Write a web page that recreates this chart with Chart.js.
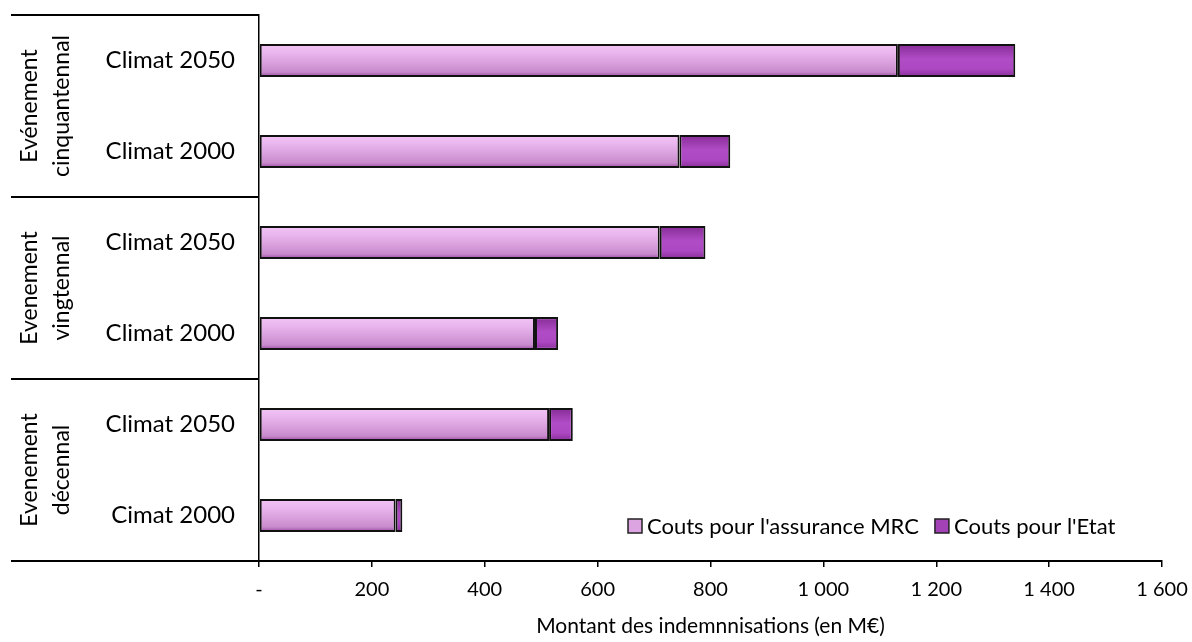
<!DOCTYPE html>
<html lang="fr">
<head>
<meta charset="UTF-8">
<title>Montant des indemnisations</title>
<script src="https://cdn.jsdelivr.net/npm/chart.js"></script>
<style>
  html, body { margin: 0; padding: 0; background: #fff; }
</style>
</head>
<body>
<canvas id="c" width="1192" height="642"></canvas>
<script>
  // valeurs (M€)
  const categories = ['Climat 2050', 'Climat 2000', 'Climat 2050', 'Climat 2000', 'Climat 2050', 'Cimat 2000'];
  const groups = [['Evénement', 'cinquantennal'], ['Evenement', 'vingtennal'], ['Evenement', 'décennal']];
  const assuranceMRC = [1132, 745, 710, 489, 514, 242];
  const coutsEtat = [208, 90, 81, 41, 42, 12];
  const seriesNames = ["Couts pour l'assurance MRC", "Couts pour l'Etat"];
  const xMin = 0, xMax = 1600, xStep = 200;

  const FONT = 'Lato, "Open Sans", sans-serif';
  const BAR_PCT = 0.36;

  function barGradient(stops, flat) {
    return (ctx) => {
      const chart = ctx.chart;
      const y = chart.scales.y;
      if (ctx.type !== 'data' || !y) return flat;
      const c = y.getPixelForValue(ctx.dataIndex);
      const h = (y.height / categories.length) * BAR_PCT;
      if (!isFinite(c) || !isFinite(h) || h <= 0) return flat;
      const g = chart.ctx.createLinearGradient(0, c - h / 2, 0, c + h / 2);
      stops.forEach(s => g.addColorStop(s[0], s[1]));
      return g;
    };
  }

  const mrcStops = [[0, '#f2c4f6'], [0.3, '#e8b4ec'], [0.65, '#d49ad8'], [0.85, '#c88acc'], [1, '#9a4aa2']];
  const etatStops = [[0, '#862c96'], [0.45, '#b04cc6'], [0.75, '#ac48c2'], [1, '#8a2e9a']];

  const decor = {
    id: 'decor',
    afterDraw(chart) {
      const ctx = chart.ctx;
      const a = chart.chartArea;
      const left = 11;
      const rowH = (a.bottom - a.top) / categories.length;
      ctx.save();
      ctx.strokeStyle = '#000';
      ctx.lineWidth = 2;
      // lignes de séparation des groupes + prolongement de l'axe
      for (let i = 0; i <= groups.length; i++) {
        const yy = Math.round(a.top + i * rowH * 2);
        ctx.beginPath();
        ctx.moveTo(left, yy);
        ctx.lineTo(a.left, yy);
        ctx.stroke();
      }
      // libellés de groupe
      ctx.fillStyle = '#000';
      ctx.font = '23px ' + FONT;
      ctx.textAlign = 'center';
      ctx.textBaseline = 'middle';
      groups.forEach((g, i) => {
        const cy = a.top + (i * 2 + 1) * rowH;
        ctx.save();
        ctx.translate(46, cy);
        ctx.rotate(-Math.PI / 2);
        ctx.fillText(g[0], 0, -16);
        ctx.fillText(g[1], 0, 16);
        ctx.restore();
      });
      // légende
      const colors = ['#dca4e0', '#a242b6'];
      ctx.font = '22px ' + FONT;
      ctx.textAlign = 'left';
      let x = 628;
      const ly = 526;
      seriesNames.forEach((n, i) => {
        ctx.fillStyle = colors[i];
        ctx.fillRect(x, ly - 7, 14, 14);
        ctx.lineWidth = 1.5;
        ctx.strokeStyle = '#222';
        ctx.strokeRect(x, ly - 7, 14, 14);
        ctx.fillStyle = '#000';
        ctx.fillText(n, x + 19, ly + 1);
        x += 19 + ctx.measureText(n).width + 16;
      });
      ctx.restore();
    }
  };

  new Chart(document.getElementById('c'), {
    type: 'bar',
    data: {
      labels: categories,
      datasets: [
        {
          label: seriesNames[0],
          data: assuranceMRC,
          backgroundColor: barGradient(mrcStops, '#dca0e0'),
          borderColor: '#111',
          borderWidth: 2,
          borderSkipped: false,
          barPercentage: BAR_PCT,
          categoryPercentage: 1
        },
        {
          label: seriesNames[1],
          data: coutsEtat,
          backgroundColor: barGradient(etatStops, '#a444b8'),
          borderColor: '#111',
          borderWidth: 2,
          borderSkipped: false,
          barPercentage: BAR_PCT,
          categoryPercentage: 1
        }
      ]
    },
    options: {
      indexAxis: 'y',
      responsive: false,
      animation: false,
      devicePixelRatio: 1,
      layout: { padding: { left: 11, right: 30, top: 15, bottom: 0 } },
      plugins: {
        legend: { display: false },
        tooltip: { enabled: false }
      },
      scales: {
        x: {
          stacked: true,
          min: xMin,
          max: xMax,
          afterFit: s => { s.height = 81; s.paddingLeft = 0; s.paddingRight = 0; },
          ticks: {
            stepSize: xStep,
            color: '#000',
            font: { family: FONT, size: 20 },
            padding: 11,
            maxRotation: 0,
            callback: v => v === 0 ? '-' : String(v).replace(/\B(?=(\d{3})+(?!\d))/g, ' ')
          },
          grid: { drawOnChartArea: false, drawTicks: true, tickLength: 6, color: '#000', lineWidth: 1.5 },
          border: { color: '#000', width: 2 },
          title: {
            display: true,
            text: 'Montant des indemnnisations (en M€)',
            color: '#000',
            font: { family: FONT, size: 21 },
            padding: { top: 0, bottom: 3 }
          }
        },
        y: {
          stacked: true,
          afterFit: s => { s.width = 248; s.paddingTop = 0; s.paddingBottom = 0; },
          ticks: {
            color: '#000',
            font: { family: FONT, size: 24 },
            padding: 24
          },
          grid: { drawOnChartArea: false, drawTicks: false },
          border: { color: '#000', width: 1.5 }
        }
      }
    },
    plugins: [decor]
  });
</script>
</body>
</html>
